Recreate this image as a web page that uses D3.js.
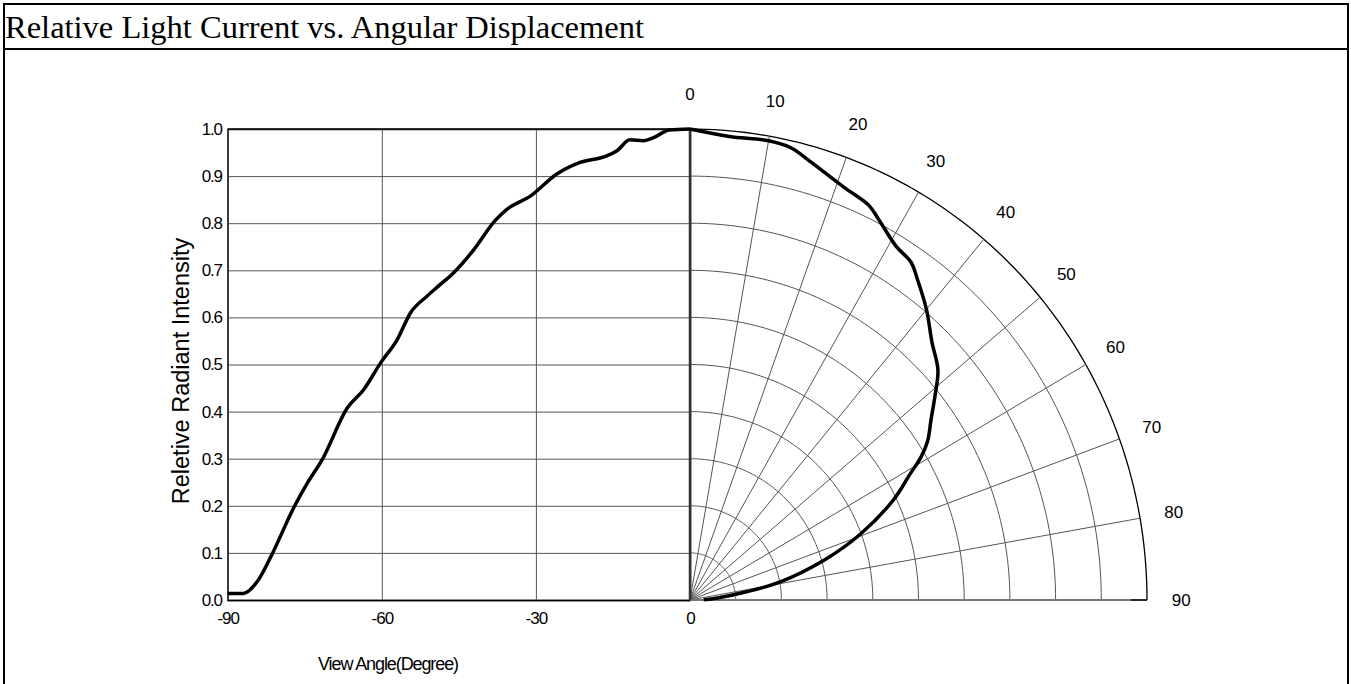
<!DOCTYPE html>
<html>
<head>
<meta charset="utf-8">
<script src="https://cdn.jsdelivr.net/npm/d3@7"></script>
<style>
  body { margin: 0; background: #fff; }
  svg text { font-family: Arial, "Liberation Sans", sans-serif; }
</style>
</head>
<body>
<svg id="chart" width="1351" height="684"></svg>
<script>
// Cartesian half: view angle (deg) vs relative intensity
var cartAngles = [-90, -87, -84, -81.6, -77, -74.5, -71.6, -66.7, -63.5, -60.2, -57, -54.4, -51.2, -48.6, -46, -42, -38, -35.6, -31, -26, -21.4, -16.2, -14.2, -11.7, -9.1, -7, -4, 0];
var cartValues = [0.014, 0.014, 0.043, 0.092, 0.199, 0.248, 0.298, 0.408, 0.447, 0.504, 0.553, 0.61, 0.645, 0.67, 0.695, 0.745, 0.805, 0.83, 0.858, 0.904, 0.929, 0.943, 0.954, 0.977, 0.975, 0.982, 0.998, 1.0];

// Polar half: angle (deg from vertical) vs radius
var polarAngles = [0, 5, 10, 13, 16, 21, 25, 27, 31, 34, 36, 40, 44, 48, 51, 54, 57, 59, 61, 64.5, 69.5, 74, 79, 82, 86, 89];
var polarValues = [1.0, 0.988, 0.99, 0.985, 0.966, 0.939, 0.925, 0.908, 0.876, 0.865, 0.845, 0.805, 0.762, 0.73, 0.69, 0.652, 0.62, 0.59, 0.55, 0.493, 0.397, 0.304, 0.201, 0.125, 0.06, 0.03];

var yTicks = [0, 0.1, 0.2, 0.3, 0.4, 0.5, 0.6, 0.7, 0.8, 0.9, 1.0];
var xTicks = [-90, -60, -30, 0];
var angleTicks = [0, 10, 20, 30, 40, 50, 60, 70, 80, 90];
var ringValues = [0.1, 0.2, 0.3, 0.4, 0.5, 0.6, 0.7, 0.8, 0.9, 1.0];

var svg = d3.select("#chart");

// title box
svg.append("rect")
    .attr("x", 4).attr("y", 4)
    .attr("width", 1344).attr("height", 720)
    .attr("fill", "none").attr("stroke", "#000").attr("stroke-width", 2);
svg.append("line")
    .attr("x1", 4).attr("x2", 1348).attr("y1", 49).attr("y2", 49)
    .attr("stroke", "#000").attr("stroke-width", 2);
svg.append("text")
    .attr("x", 5).attr("y", 38)
    .style("font-family", "'Liberation Serif', 'Times New Roman', serif")
    .style("font-size", "32.5px")
    .text("Relative Light Current vs. Angular Displacement");

// scales
var plotLeft = 227.7, cx = 690, cy = 600, plotTop = 129;
var xScale = d3.scaleLinear().domain([-90, 0]).range([plotLeft, cx]);
var yScale = d3.scaleLinear().domain([0, 1]).range([cy, plotTop]);
var rx = d3.scaleLinear().domain([0, 1]).range([0, 457]);
var ry = d3.scaleLinear().domain([0, 1]).range([0, 471]);
var rad = function(a) { return a * Math.PI / 180; };
var px = function(a, r) { return cx + rx(r) * Math.sin(rad(a)); };
var py = function(a, r) { return cy - ry(r) * Math.cos(rad(a)); };

// ---- cartesian grid + axes
var yAxis = d3.axisLeft(yScale)
    .tickValues(yTicks)
    .tickFormat(d3.format(".1f"))
    .tickSize(-(cx - plotLeft))
    .tickPadding(6);
var gy = svg.append("g")
    .attr("transform", "translate(" + plotLeft + ",0)")
    .call(yAxis);
gy.select(".domain").attr("stroke", "#000").attr("stroke-width", 1.5);
gy.selectAll(".tick line").attr("stroke", "#555");
gy.selectAll(".tick text")
    .style("font-size", "17px")
    .style("letter-spacing", "-1.2px")
    .attr("fill", "#000");

var xAxis = d3.axisBottom(xScale)
    .tickValues(xTicks)
    .tickFormat(function(d) { return String(d); })
    .tickSize(-(cy - plotTop))
    .tickPadding(12);
var gx = svg.append("g")
    .attr("transform", "translate(0," + cy + ")")
    .call(xAxis);
gx.select(".domain").attr("stroke", "#000").attr("stroke-width", 1.5);
gx.selectAll(".tick line").attr("stroke", "#555");
gx.selectAll(".tick text")
    .style("font-size", "17px")
    .style("letter-spacing", "-1px")
    .attr("fill", "#000");

// top frame
svg.append("line")
    .attr("x1", plotLeft).attr("x2", cx).attr("y1", plotTop).attr("y2", plotTop)
    .attr("stroke", "#000").attr("stroke-width", 1.5);

// axis titles
svg.append("text")
    .attr("transform", "translate(189,371) rotate(-90)")
    .attr("text-anchor", "middle")
    .style("font-size", "23.5px")
    .text("Reletive Radiant Intensity");
svg.append("text")
    .attr("x", 388).attr("y", 670)
    .attr("text-anchor", "middle")
    .style("font-size", "18px")
    .style("letter-spacing", "-1.1px")
    .text("View Angle(Degree)");

// ---- polar grid
var arcAngles = d3.range(0, 90.5, 1);
var ring = d3.line();
svg.append("g").selectAll("path")
    .data(ringValues)
    .enter()
    .append("path")
    .attr("d", function(r) {
        return ring(arcAngles.map(function(a) { return [px(a, r), py(a, r)]; }));
    })
    .attr("fill", "none")
    .attr("stroke", function(r) { return r === 1 ? "#000" : "#555"; })
    .attr("stroke-width", function(r) { return r === 1 ? 1.3 : 1; });

svg.append("g").selectAll("line")
    .data(angleTicks.filter(function(a) { return a > 0 && a < 90; }))
    .enter()
    .append("line")
    .attr("x1", cx).attr("y1", cy)
    .attr("x2", function(a) { return px(a, 1); })
    .attr("y2", function(a) { return py(a, 1); })
    .attr("stroke", "#555").attr("stroke-width", 1);

// baseline and zero axis
svg.append("line")
    .attr("x1", cx).attr("x2", px(90, 1)).attr("y1", cy).attr("y2", cy)
    .attr("stroke", "#777").attr("stroke-width", 2);
svg.append("line")
    .attr("x1", px(90, 0.965)).attr("x2", px(90, 1)).attr("y1", cy).attr("y2", cy)
    .attr("stroke", "#000").attr("stroke-width", 1.3);
svg.append("line")
    .attr("x1", cx).attr("x2", cx).attr("y1", plotTop).attr("y2", cy)
    .attr("stroke", "#333").attr("stroke-width", 2.5);

// angle labels
svg.append("g").selectAll("text")
    .data(angleTicks)
    .enter()
    .append("text")
    .attr("x", function(a) { return px(a, 1.075); })
    .attr("y", function(a) { return py(a, 1.075); })
    .attr("text-anchor", "middle")
    .attr("dy", "0.35em")
    .style("font-size", "17px")
    .text(function(a) { return a; });

// ---- data curves
var cartData = cartAngles.map(function(a, i) { return [a, cartValues[i]]; });
svg.append("path")
    .datum(cartData)
    .attr("d", d3.line()
        .x(function(d) { return xScale(d[0]); })
        .y(function(d) { return yScale(d[1]); })
        .curve(d3.curveMonotoneX))
    .attr("fill", "none")
    .attr("stroke", "#000")
    .attr("stroke-width", 3.5);

var polarData = polarAngles.map(function(a, i) { return [a, polarValues[i]]; });
svg.append("path")
    .datum(polarData)
    .attr("d", d3.line()
        .x(function(d) { return px(d[0], d[1]); })
        .y(function(d) { return py(d[0], d[1]); })
        .curve(d3.curveCatmullRom))
    .attr("fill", "none")
    .attr("stroke", "#000")
    .attr("stroke-width", 3.5);
</script>
</body>
</html>
